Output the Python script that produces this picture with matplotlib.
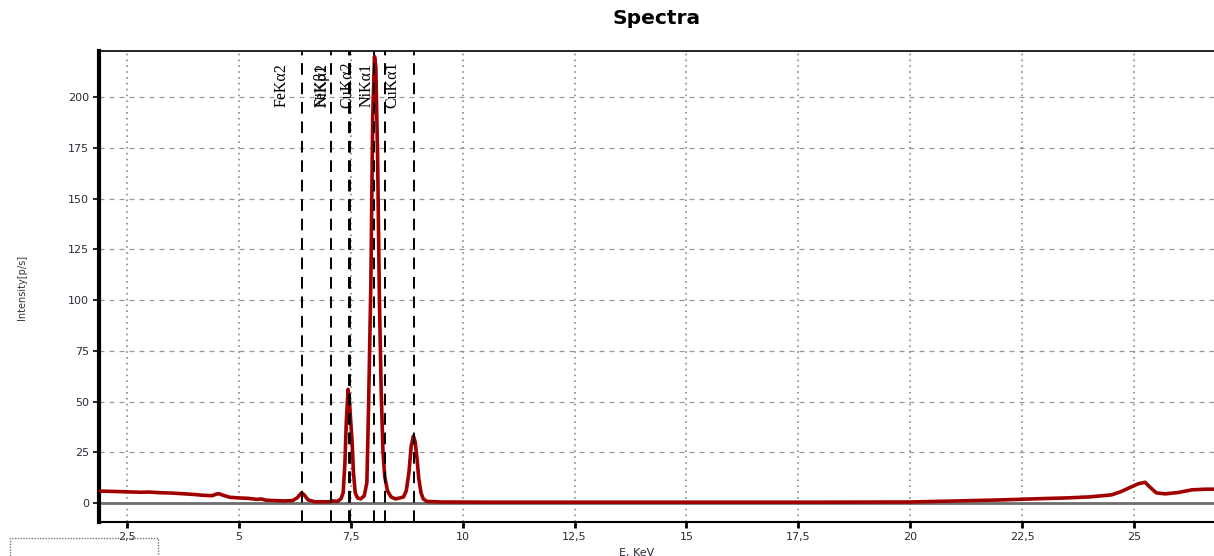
import matplotlib
matplotlib.use("Agg")
import matplotlib.pyplot as plt
from matplotlib.patches import Rectangle

# ---- data ----
energy = [1.87, 2.2, 2.5, 2.8, 3.0, 3.2, 3.5, 3.8, 4.0, 4.2, 4.4, 4.5, 4.55, 4.65, 4.8,
          5.0, 5.2, 5.4, 5.5, 5.6, 5.8, 6.0, 6.2, 6.3, 6.4, 6.45, 6.55, 6.7, 7.0, 7.1,
          7.2, 7.28, 7.33, 7.37, 7.40, 7.44, 7.47, 7.50, 7.53, 7.56, 7.60, 7.65, 7.72,
          7.8, 7.86, 7.90, 7.95, 7.99, 8.03, 8.06, 8.10, 8.14, 8.18, 8.22, 8.26, 8.32,
          8.40, 8.50, 8.60, 8.68, 8.74, 8.80, 8.85, 8.90, 8.94, 8.98, 9.02, 9.07, 9.12,
          9.20, 9.5, 10.5, 12.0, 14.0, 16.0, 18.0, 20.0, 21.0, 22.0, 23.0, 23.5, 24.0,
          24.5, 24.7, 24.9, 25.1, 25.25, 25.35, 25.5, 25.7, 26.0, 26.3, 26.6, 26.9]
intensity = [5.9, 5.7, 5.5, 5.3, 5.4, 5.1, 4.9, 4.5, 4.2, 3.8, 3.6, 4.4, 4.6, 3.8, 2.8,
             2.5, 2.3, 1.8, 2.0, 1.4, 1.2, 1.0, 1.2, 2.5, 5.0, 4.2, 1.5, 0.6, 0.6, 1.0,
             0.8, 2.0, 5.0, 20.0, 40.0, 56.0, 50.0, 40.0, 30.0, 15.0, 5.0, 2.5, 2.0,
             3.5, 10.0, 50.0, 110.0, 190.0, 220.0, 215.0, 170.0, 100.0, 55.0, 25.0, 13.0, 6.0,
             3.0, 2.0, 2.5, 3.0, 6.0, 15.0, 28.0, 33.0, 30.0, 22.0, 12.0, 5.0, 2.0,
             0.8, 0.5, 0.4, 0.4, 0.4, 0.4, 0.4, 0.5, 1.0, 1.5, 2.2, 2.5, 3.0,
             4.0, 5.5, 7.5, 9.5, 10.2, 8.0, 5.0, 4.5, 5.2, 6.5, 6.8, 6.8]

line_energies = [6.41, 7.06, 7.465, 7.48, 8.02, 8.27, 8.91]
label_names = ["FeKα2", "FeKβ1", "NiKα2", "CuKα2", "NiKα1", "CuKα1"]
label_x = [5.95, 6.85, 6.87, 7.42, 7.86, 8.42]

x_ticks = [2.5, 5, 7.5, 10, 12.5, 15, 17.5, 20, 22.5, 25]
x_tick_labels = ["2,5", "5", "7,5", "10", "12,5", "15", "17,5", "20", "22,5", "25"]
y_ticks = [0, 25, 50, 75, 100, 125, 150, 175, 200]

# ---- figure ----
fig = plt.figure(figsize=(12.14, 5.56), dpi=100)
ax = fig.add_axes([99 / 1214, 1 - 522 / 556, 1 - 99 / 1214, (522 - 51) / 556])
ax.set_xlim(1.874, 26.79)
ax.set_ylim(-9.36, 222.7)

# grid
for yt in y_ticks[1:]:
    ax.axhline(yt, color="#9a9a9a", lw=0.9, ls=(0, (4, 4)), zorder=1)
for xt in x_ticks:
    ax.axvline(xt, color="#8a8a8a", lw=1.2, ls=(0, (1, 2.5)), zorder=1)

# baseline
ax.axhline(0, color="#6e6e6e", lw=2.0, zorder=2)

# spectrum
ax.plot(energy, intensity, color="#a00000", lw=2.6, zorder=3, solid_joinstyle="round")

# element lines
for e in line_energies:
    ax.axvline(e, color="black", lw=1.4, ls=(0, (6, 4)), zorder=4)

for name, lx in zip(label_names, label_x):
    ax.text(lx, 206, name, rotation=90, ha="center", va="center",
            family="Liberation Serif", fontsize=11.5, color="black", zorder=5)

# axes styling
ax.set_xticks(x_ticks)
ax.set_xticklabels(x_tick_labels)
ax.set_yticks(y_ticks)
ax.tick_params(axis="x", direction="out", length=4, width=2, labelsize=8,
               labelcolor="#2a2a3a", pad=3)
ax.tick_params(axis="y", direction="out", length=4, width=1.2, labelsize=8,
               labelcolor="#2a2a3a", pad=3)
for lab in ax.get_xticklabels() + ax.get_yticklabels():
    lab.set_family("DejaVu Sans")

ax.spines["left"].set_linewidth(3)
ax.spines["bottom"].set_linewidth(1.5)
ax.spines["top"].set_linewidth(1.2)
ax.spines["right"].set_visible(False)

ax.set_xlabel("E, KeV", fontsize=8, color="#2a2a3a", labelpad=4)
ax.xaxis.set_label_coords((637 - 99) / (1214 - 99), -(548 - 522) / (522 - 51))
fig.text(22 / 1214, 1 - 287 / 556, "Intensity[p/s]", rotation=90, ha="center",
         va="center", fontsize=7, color="#333333")

fig.text(657 / 1214, 1 - 18 / 556, "Spectra", ha="center", va="center",
         fontsize=14.5, fontweight="bold", color="black")

# dotted legend box at lower-left (partially visible)
fig.patches.append(Rectangle((10 / 1214, -0.05), 148 / 1214, (0.05 + 1 - 538 / 556),
                             transform=fig.transFigure, fill=False,
                             edgecolor="#777777", lw=1, ls=(0, (1, 1))))

fig.savefig("out.png", dpi=100)
